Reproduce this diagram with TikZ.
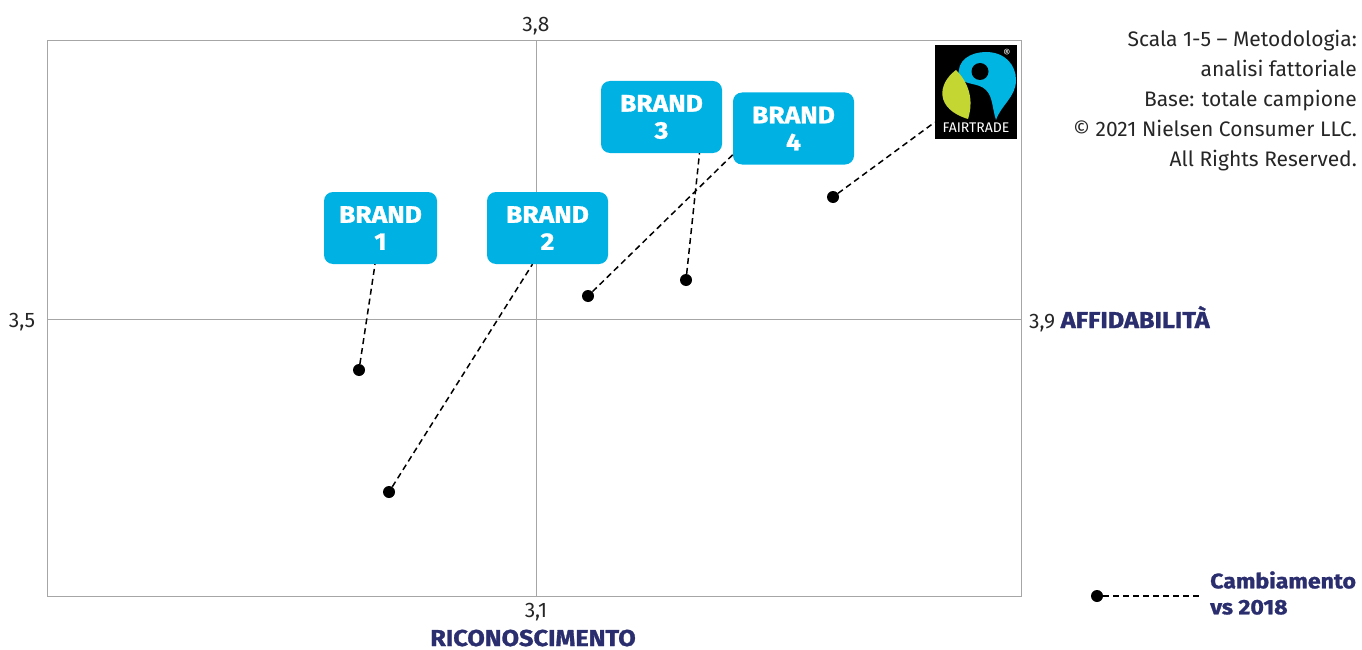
\documentclass[tikz,border=0pt]{standalone}
\usepackage{fontspec}
\setmainfont{Fira Sans}
\newfontfamily\heavyfont{Fira Sans}[BoldFeatures={FakeBold=1.2},FakeStretch=1.1]
\usetikzlibrary{positioning,calc}
\definecolor{brandblue}{HTML}{00B2E3}
\definecolor{navy}{HTML}{2B2E6E}
\definecolor{ftblue}{HTML}{00B5E2}
\definecolor{ftgreen}{HTML}{C4D631}
\tikzset{
brand/.style={
  fill=brandblue,
  rounded corners=9pt,
  minimum width=121pt,
  minimum height=72pt,
  inner sep=0pt,
  text=white,
  align=center,
  font=\fontsize{24}{27}\selectfont\heavyfont\bfseries
  },
dot/.style={circle,fill=black,inner sep=0pt,minimum size=12pt},
change/.style={dash pattern=on 6pt off 4pt,line width=1.5pt},
gridline/.style={draw=black!35,line width=1pt},
numtext/.style={font=\fontsize{21}{29.8}\selectfont,text=black!85},
axistitle/.style={font=\fontsize{23}{26}\selectfont\heavyfont\bfseries,text=navy}
}
\begin{document}
\begin{tikzpicture}[x=1pt,y=-1pt]
    \useasboundingbox (0,0) rectangle (1362,650);
    \draw [gridline] (47,41) rectangle (1021,596);
    \draw [gridline] (536,41) -- (536,596);
    \draw [gridline] (47,319) -- (1021,319);

    \node [numtext,anchor=base] (ytop) at (536,32) {3,8};
    \node [numtext,anchor=base] (ybot) at (536,617) {3,1};
    \node [numtext,anchor=base] (xleft) at (22,327) {3,5};
    \node [numtext,anchor=base west,inner sep=0pt] (xright) at (1029,328)
        {3,9 {\fontsize{23}{26}\selectfont\heavyfont\bfseries\color{navy}AFFIDABILITÀ}};
    \node [axistitle,anchor=base] (ytitle) at (533,646) {RICONOSCIMENTO};

    \foreach \n/\x/\y/\w in {1/380.5/228/113, 2/547.5/228/121, 3/661.5/117/121, 4/793.5/128.5/121}
    {
        \node [brand,minimum width=\w pt] (b\n) at (\x,\y) {BRAND\\\n};
    }
    \foreach \n/\x/\y in {1/359/370, 2/389/492, 3/686/280, 4/588/296, 5/833/197}
    {
        \node [dot] (p\n) at (\x,\y) {};
    }

    % fairtrade mark
    \node [fill=black,minimum width=82pt,minimum height=94pt,inner sep=0pt] (ft) at (976,92) {};
    \fill [ftblue] (959,77) .. controls (956,60) and (971,52) .. (986,52)
        .. controls (1005,52) and (1016,65) .. (1016,80)
        .. controls (1016,97) and (1001,105) .. (996,120)
        .. controls (992,108) and (993,97) .. (986,90)
        .. controls (978,82) and (965,86) .. (959,77) -- cycle;
    \fill [black] (980,71.5) circle (8.5pt);
    \fill [ftgreen] (956,70) .. controls (937,84) and (935,109) .. (968,119)
        .. controls (974,100) and (969,83) .. (956,70) -- cycle;
    \node [text=white,font=\fontsize{14}{14}\selectfont,inner sep=0pt] (fttext) at (976,128) {FAIRTRADE};
    \node [text=white,font=\fontsize{11}{11}\selectfont,inner sep=0pt] (ftreg) at (1007,53) {\textregistered};

    \draw [change] (p1) -- (b1);
    \draw [change] (p2) -- ([xshift=-15pt]b2.south);
    \draw [change] (p3) -- ([xshift=38pt]b3.south);
    \draw [change] (p4) -- ([yshift=10pt]b4.south west);
    \draw [change] (p5) -- ([yshift=17pt]ft.south west);

    \node [numtext,anchor=base east,align=right,inner sep=0pt] (notes) at (1357,166)
        {Scala 1-5 -- Metodologia:\\analisi fattoriale\\Base: totale campione\\
         \textcopyright{} 2021 Nielsen Consumer LLC.\\All Rights Reserved.};

    \node [dot] (legdot) at (1097,596) {};
    \coordinate (legend) at (1201,596);
    \draw [change,line width=1.2pt] (legdot) -- (legend);
    \node [axistitle,font=\fontsize{21}{26}\selectfont\heavyfont\bfseries,anchor=west,align=left,inner sep=0pt]
        (legtext) at (1210,593) {Cambiamento\\vs 2018};
\end{tikzpicture}
\end{document}
